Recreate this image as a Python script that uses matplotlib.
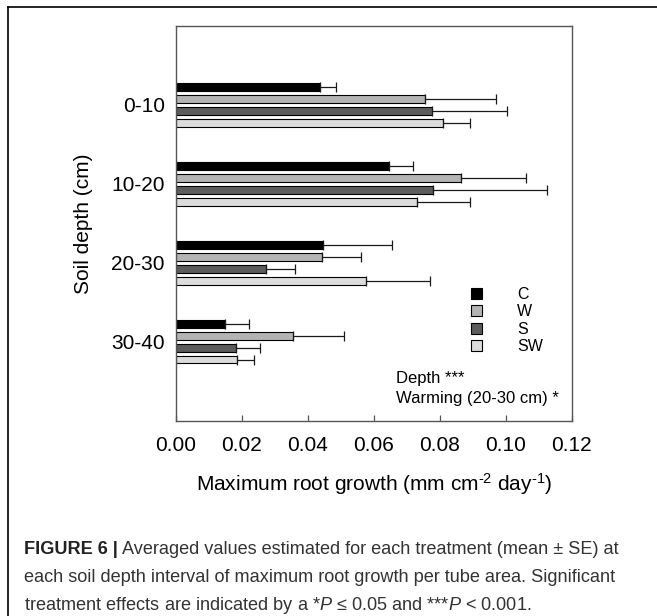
import numpy as np
import matplotlib
matplotlib.use("Agg")
import matplotlib.pyplot as plt
from matplotlib.lines import Line2D

plt.rcParams["font.family"] = "Liberation Sans"
plt.rcParams["mathtext.fontset"] = "custom"
plt.rcParams["mathtext.rm"] = "Liberation Sans"
plt.rcParams["mathtext.it"] = "Liberation Sans:italic"
plt.rcParams["mathtext.bf"] = "Liberation Sans:bold"

# data
depths = ["0-10", "10-20", "20-30", "30-40"]
treatments = ["C", "W", "S", "SW"]
c_mean = [0.0437, 0.0646, 0.0446, 0.0148]
c_se = [0.0048, 0.0072, 0.0209, 0.0074]
w_mean = [0.0754, 0.0865, 0.0443, 0.0356]
w_se = [0.0218, 0.0198, 0.0118, 0.0153]
s_mean = [0.0778, 0.0779, 0.0273, 0.0181]
s_se = [0.0227, 0.0348, 0.0088, 0.0074]
sw_mean = [0.0810, 0.0731, 0.0577, 0.0184]
sw_se = [0.0083, 0.0160, 0.0194, 0.0054]
x_ticks = [0.00, 0.02, 0.04, 0.06, 0.08, 0.10, 0.12]

means = [c_mean, w_mean, s_mean, sw_mean]
ses = [c_se, w_se, s_se, sw_se]
colors = ["#000000", "#b4b4b4", "#5c5c5c", "#dcdcdc"]
offsets = [-0.225, -0.075, 0.075, 0.225]

W, H = 657, 616
fig = plt.figure(figsize=(W / 100, H / 100), dpi=100)
ax = fig.add_axes([176 / W, 1 - 420.7 / H, 395.5 / W, 394.7 / H])

y = np.arange(len(depths))
for m, e, col, off, name in zip(means, ses, colors, offsets, treatments):
    ax.barh(y + off, m, height=0.1, color=col, edgecolor="black",
            linewidth=0.8, label=name,
            xerr=[np.zeros(len(e)), e],
            error_kw=dict(ecolor="#1a1a1a", elinewidth=0.9, capsize=3.5,
                          capthick=0.9))

ax.set_ylim(4, -1)
ax.set_xlim(0, 0.12)
ax.set_yticks(y)
ax.set_yticklabels(depths)
ax.set_xticks(x_ticks)
ax.set_xticklabels(["%.2f" % v for v in x_ticks])
ax.tick_params(axis="y", length=0, pad=8, labelsize=15)
ax.tick_params(axis="x", direction="in", length=4, width=0.9, color="#555555",
               pad=11, labelsize=15)
for sp in ax.spines.values():
    sp.set_color("#555555")
    sp.set_linewidth(1.0)

ax.set_ylabel("Soil depth (cm)", fontsize=15)
ax.yaxis.set_label_coords(-0.21, 0.5)
ax.set_xlabel(r"Maximum root growth (mm cm$^{\text{-2}}$ day$^{\text{-1}}$)",
              fontsize=15)
ax.xaxis.set_label_coords(0.5, -0.127)

ax.legend(loc="upper left", bbox_to_anchor=(471 / W, 1 - 287 / H),
          bbox_transform=fig.transFigure, frameon=False, fontsize=11.5,
          handlelength=0.7, handleheight=0.7, handletextpad=2.2,
          labelspacing=0.15, borderpad=0, borderaxespad=0)

ax.text(0.5555, 0.108, "Depth ***", transform=ax.transAxes, fontsize=12,
        va="center", ha="left")
ax.text(0.5555, 0.0575, "Warming (20-30 cm) *", transform=ax.transAxes,
        fontsize=12, va="center", ha="left")

# outer frame (only top and left edges visible)
fig.add_artist(Line2D([8 / W, 1], [1 - 7 / H, 1 - 7 / H],
                      transform=fig.transFigure, color="black", lw=1.2))
fig.add_artist(Line2D([8 / W, 8 / W], [1 - 7 / H, 0],
                      transform=fig.transFigure, color="black", lw=1.2))

# caption
cap_size = 13.1
x0 = 24 / W
renderer = fig.canvas.get_renderer()
t = fig.text(x0, 1 - 554 / H, "FIGURE 6 |", fontsize=cap_size,
             fontweight="bold", color="#222222", va="baseline")
bb = t.get_window_extent(renderer)
fig.text(bb.x1 / W + 4 / W, 1 - 554 / H,
         "Averaged values estimated for each treatment (mean \u00b1 SE) at",
         fontsize=cap_size, color="#333333", va="baseline")
fig.text(x0, 1 - 582 / H,
         "each soil depth interval of maximum root growth per tube area. Significant",
         fontsize=cap_size, color="#333333", va="baseline")
fig.text(x0, 1 - 610 / H,
         "treatment effects are indicated by a *$P$ \u2264 0.05 and ***$P$ < 0.001.",
         fontsize=cap_size, color="#333333", va="baseline")

fig.savefig("out.png", dpi=100)
